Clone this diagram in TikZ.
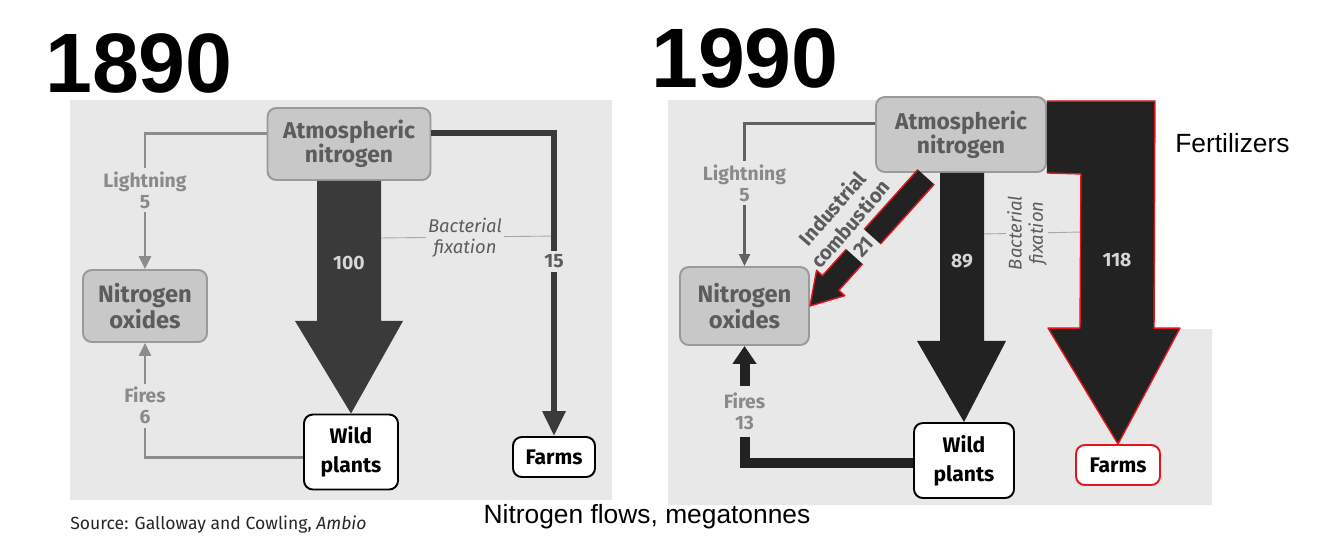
\documentclass[tikz,border=0pt]{standalone}
\usepackage{fontspec}
\setmainfont{Fira Sans}
\newfontfamily\arialfont{Liberation Sans}
\usetikzlibrary{arrows.meta,calc}
\definecolor{paper}{HTML}{E8E8E8}
\definecolor{boxgray}{HTML}{C8C8C8}
\definecolor{boxline}{HTML}{9A9A9A}
\definecolor{labelgray}{HTML}{5C5C5C}
\definecolor{softtext}{HTML}{8A8A8A}
\definecolor{softline}{HTML}{8C8C8C}
\definecolor{flowdark}{HTML}{3A3A3A}
\definecolor{flowblack}{HTML}{222222}
\definecolor{leadergray}{HTML}{A8A8A8}
\definecolor{numwhite}{HTML}{D6D6D6}
\definecolor{marker}{HTML}{E3141B}
\tikzset{
  >=Latex,
  every node/.style={inner sep=0pt},
  yearlabel/.style={font=\arialfont\bfseries\fontsize{48}{48}\selectfont,text=black},
  graybox/.style={draw=boxline,line width=1.1pt,rounded corners=5pt,fill=boxgray,align=center,font=\bfseries\fontsize{13}{13.8}\selectfont,text=labelgray},
  whitebox/.style={draw=black,line width=1.1pt,rounded corners=5pt,fill=white,align=center,font=\bfseries\fontsize{12}{16.5}\selectfont,text=black},
  bigflow/.style={fill=flowdark},
  fertflow/.style={fill=flowblack,draw=marker,line width=0.8pt,line join=round},
  thinflow/.style={draw=softline,line width=1.7pt,-{Triangle[width=0.24cm,length=0.26cm]}},
  darkthin/.style={draw=flowdark!80,line width=1.3pt,-{Triangle[width=0.22cm,length=0.24cm]}},
  fifteenflow/.style={draw=flowdark,line width=3.4pt,-{Triangle[width=0.44cm,length=0.5cm]}},
  fireflow/.style={draw=flowblack,line width=5.7pt,-{Triangle[width=0.46cm,length=0.36cm]}},
  leader/.style={draw=leadergray,line width=0.5pt},
  flowlabel/.style={font=\bfseries\fontsize{11}{12}\selectfont,text=softtext,align=center,fill=paper,inner sep=2pt},
  flownum/.style={font=\bfseries\fontsize{11}{12}\selectfont,text=numwhite},
  bactlabel/.style={font=\itshape\fontsize{10.5}{12}\selectfont,text=labelgray,align=center,fill=paper,inner sep=1pt},
  combolabel/.style={font=\bfseries\fontsize{11.5}{13.5}\selectfont,text=labelgray,align=center},
  caption/.style={font=\arialfont\fontsize{15}{17}\selectfont,text=black},
}

\begin{document}
\begin{tikzpicture}[x=0.02cm,y=-0.02cm]
\useasboundingbox (0,0) rectangle (1334,559);

\fill[paper] (70,100) rectangle (612,500);
\fill[paper] (668,100) -- (1154,100) -- (1154,329) -- (1212,329) -- (1212,505) -- (668,505) -- cycle;

\node[yearlabel] (yearL) at (139,63) {1890};
\node[yearlabel] (yearR) at (745,58) {1990};

\node[graybox,minimum width=3.26cm,minimum height=1.44cm] (atmL) at (349,144) {Atmospheric\\nitrogen};
\node[graybox,font=\bfseries\fontsize{13.5}{14.5}\selectfont,minimum width=2.48cm,minimum height=1.44cm] (noxL) at (145,306) {Nitrogen\\oxides};
\node[whitebox,minimum width=1.88cm,minimum height=1.5cm] (wildL) at (351,452) {Wild\\plants};
\node[whitebox,minimum width=1.64cm,minimum height=0.8cm] (farmsL) at (554,457) {Farms};

\node[graybox,minimum width=3.4cm,minimum height=1.5cm] (atmR) at (961,134.5) {Atmospheric\\nitrogen};
\node[graybox,font=\bfseries\fontsize{13.5}{14.5}\selectfont,minimum width=2.58cm,minimum height=1.56cm] (noxR) at (744.5,306) {Nitrogen\\oxides};
\node[whitebox,minimum width=2cm,minimum height=1.5cm] (wildR) at (964,460.5) {Wild\\plants};
\node[whitebox,draw=marker,minimum width=1.68cm,minimum height=0.8cm] (farmsR) at (1118,465) {Farms};

\draw[leader] ($(atmL.south)+(32,57)$) -- ($(farmsL.north)+(0,-200)$);
\fill[bigflow] ($(atmL.south)+(-32,0)$) -- ++(0,140) -- ++(-22,0) -- (wildL.north) -- ($(atmL.south)+(54,140)$) -- ($(atmL.south)+(32,140)$) -- ($(atmL.south)+(32,0)$) -- cycle;
\node[flownum] (numL) at ($(atmL.south)+(0,82)$) {100};
\node[bactlabel] (bactL) at (465,238) {Bacterial\\fixation};
\draw[fifteenflow] ([yshift=0.22cm]atmL.east) -| node[pos=0.712,flowlabel,text=labelgray]{15} (farmsL.north);
\draw[thinflow] ([yshift=0.22cm]atmL.west) -| node[pos=0.71,flowlabel]{Lightning\\5} (noxL.north);
\draw[thinflow] ([yshift=-0.1cm]wildL.west) -| node[pos=0.725,flowlabel]{Fires\\6} (noxL.south);

\draw[leader] ($(atmR.south)+(23,61)$) -- ($(farmsR.north)+(-38,-212)$);
\fill[bigflow,fill=flowblack] ($(atmR.south)+(-21,0)$) -- ++(0,168) -- ++(-23,0) -- (wildR.north) -- ($(atmR.south)+(45,168)$) -- ($(atmR.south)+(23,168)$) -- ($(atmR.south)+(23,0)$) -- cycle;
\node[flownum] (numR) at ($(atmR.south)+(1,88)$) {89};
\filldraw[fertflow] ($(atmR.north east)+(0,5)$) -- ++(108,0) -- ($(farmsR.north)+(36,-116)$) -- ++(26,0) -- (farmsR.north) -- ++(-70,-116) -- ++(32,0) -- ($(atmR.south east)+(34,1)$) -- (atmR.south east);
\node[flownum] (numFert) at ($(farmsR.north)+(-1,-184)$) {118};
\node[bactlabel,rotate=90] (bactR) at (1027,233) {Bacterial\\fixation};

\coordinate (combStart) at ($(atmR.south)+(-35,4)$);
\coordinate (combHead) at ($(noxR.east)!0.62cm!(combStart)$);
\filldraw[fertflow] ($(combStart)!0.22cm!90:(noxR.east)$) -- ($(combHead)!0.22cm!90:(noxR.east)$) -- ($(combHead)!0.38cm!90:(noxR.east)$) -- (noxR.east) -- ($(combHead)!0.38cm!-90:(noxR.east)$) -- ($(combHead)!0.22cm!-90:(noxR.east)$) -- ($(combStart)!0.22cm!-90:(noxR.east)$);
\path (combStart) -- (noxR.east)
  node[pos=0.54,sloped,font=\bfseries\fontsize{11.5}{13}\selectfont,text=labelgray,fill=paper,inner xsep=2pt,inner ysep=3pt] (combNum) {21};
\node[combolabel,rotate=49] (combText) at (841,216) {Industrial\\combustion};

\draw[darkthin] ([yshift=0.22cm]atmR.west) -| node[pos=0.71,flowlabel]{Lightning\\5} (noxR.north);
\draw[fireflow] ([yshift=-0.05cm]wildR.west) -| node[pos=0.72,flowlabel,inner ysep=4pt]{Fires\\13} (noxR.south);

\node[caption,anchor=west] (fert) at (1175,143) {Fertilizers};
\node[caption] (units) at (647,517) {Nitrogen flows, megatonnes};
\node[anchor=west,font=\fontsize{10}{12}\selectfont,text=black!85] (source) at (70,525) {Source: Galloway and Cowling, \textit{Ambio}};

\end{tikzpicture}
\end{document}
